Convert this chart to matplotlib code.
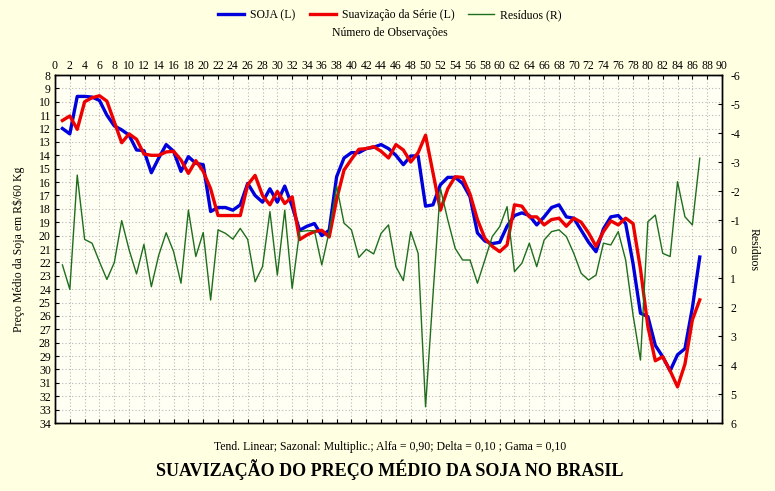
import matplotlib
matplotlib.use("Agg")
import matplotlib.pyplot as plt
from matplotlib.ticker import MultipleLocator

obs = list(range(1, 88))

soja = [12.0, 12.4, 9.6, 9.6, 9.65, 9.9, 11.0, 11.8, 12.1, 12.5,
        13.6, 13.65, 15.3, 14.2, 13.2, 13.7, 15.2, 14.1, 14.6, 14.7,
        18.2, 17.9, 17.9, 18.1, 17.7, 16.1, 17.0, 17.5, 16.5, 17.5,
        16.3, 17.8, 19.6, 19.3, 19.1, 20.0, 19.6, 15.6, 14.2, 13.8,
        13.8, 13.5, 13.4, 13.2, 13.5, 14.0, 14.7, 14.05, 14.05, 17.8,
        17.7, 16.2, 15.65, 15.65, 16.1, 17.1, 19.8, 20.4, 20.6, 20.5,
        19.3, 18.5, 18.3, 18.5, 19.2, 18.6, 17.9, 17.7, 18.6, 18.7,
        19.6, 20.5, 21.2, 19.5, 18.6, 18.5, 19.1, 22.1, 25.8, 26.05,
        28.2, 29.05, 30.1, 28.9, 28.45, 25.4, 21.6]

suavizacao = [11.4, 11.06, 12.06, 10.0, 9.7, 9.55, 9.95, 11.5, 13.06, 12.4,
              12.8, 13.9, 14.0, 14.0, 13.75, 13.7, 14.35, 15.35, 14.4, 15.2,
              16.5, 18.5, 18.5, 18.5, 18.5, 16.2, 15.5, 17.0, 17.7, 16.7,
              17.6, 17.1, 20.3, 19.95, 19.7, 19.6, 20.1, 17.3, 15.1, 14.3,
              13.55, 13.5, 13.35, 13.7, 14.2, 13.2, 13.6, 14.5, 13.8, 12.5,
              15.3, 18.1, 16.5, 15.6, 15.65, 16.9, 18.8, 20.2, 20.8, 21.2,
              20.7, 17.7, 17.8, 18.6, 18.6, 19.2, 18.8, 18.7, 19.3, 18.7,
              19.0, 19.8, 20.8, 19.7, 18.9, 19.2, 18.7, 19.1, 22.5, 26.8,
              29.35, 29.05, 30.1, 31.3, 29.6, 26.3, 24.8]

residuos = [0.55, 1.39, -2.55, -0.33, -0.2, 0.44, 1.05, 0.47, -0.98, 0.03,
            0.86, -0.16, 1.3, 0.21, -0.56, 0.09, 1.18, -1.34, 0.26, -0.57,
            1.76, -0.66, -0.54, -0.34, -0.71, -0.33, 1.13, 0.61, -1.29, 0.9,
            -1.34, 1.36, -0.6, -0.63, -0.63, 0.55, -0.6, -2.17, -0.89, -0.66,
            0.29, 0.01, 0.17, -0.54, -0.83, 0.61, 1.09, -0.6, 0.15, 5.44,
            1.6, -2.09, -1.0, -0.02, 0.38, 0.38, 1.18, 0.38, -0.43, -0.77,
            -1.46, 0.78, 0.49, -0.2, 0.61, -0.31, -0.6, -0.66, -0.43, 0.15,
            0.84, 1.07, 0.9, -0.2, -0.14, -0.6, 0.38, 2.28, 3.83, -0.94,
            -1.17, 0.15, 0.26, -2.32, -1.11, -0.83, -3.13]

W, H = 775, 491
fig = plt.figure(figsize=(W / 100, H / 100), dpi=100)
fig.patch.set_facecolor("#ffffe1")
serif = ["Liberation Serif", "DejaVu Serif"]
plt.rcParams["font.family"] = serif
plt.rcParams["axes.unicode_minus"] = False

ax = fig.add_axes([55 / W, 1 - 423 / H, 667 / W, 348 / H])
ax.set_facecolor("#fffff4")
ax2 = ax.twinx()

l1, = ax.plot(obs, soja, color="#0000dd", lw=2.4, label="SOJA (L)", zorder=3)
l2, = ax.plot(obs, suavizacao, color="#ee0000", lw=2.4, label="Suavização da Série (L)", zorder=4)
l3, = ax2.plot(obs, residuos, color="#1e6e1e", lw=1.0, label="Resíduos (R)")

ax.set_xlim(0, 90)
ax.set_ylim(34, 8)
ax2.set_ylim(6, -6)

ax.xaxis.set_major_locator(MultipleLocator(2))
ax.yaxis.set_major_locator(MultipleLocator(1))
ax2.yaxis.set_major_locator(MultipleLocator(1))
ax.tick_params(axis="x", top=True, bottom=True, labeltop=True, labelbottom=False,
               direction="in", length=3, labelsize=8.5, pad=2)
ax.tick_params(axis="y", direction="in", length=3, labelsize=8.5, pad=3)
ax2.tick_params(axis="y", direction="in", length=3, labelsize=8.5, pad=6)

ax.grid(True, color="#b8b8b8", linestyle=(0, (1, 2)), linewidth=0.8)
for a in (ax, ax2):
    for s in a.spines.values():
        s.set_color("black")
        s.set_linewidth(1.0)

ax.set_ylabel("Preço Médio da Soja em R$/60 Kg", fontsize=8.5, labelpad=10)
ax2.set_ylabel("Resíduos", fontsize=8.5, rotation=270, labelpad=14)

fig.text(390 / W, 1 - 33 / H, "Número de Observações", ha="center", va="center", fontsize=8.5)
fig.legend(handles=[l1, l2, l3], loc="center", bbox_to_anchor=(390 / W, 1 - 15 / H),
           ncol=3, frameon=False, fontsize=8.5, handlelength=2.2, columnspacing=1.2,
           handletextpad=0.5)

fig.text(390 / W, 1 - 447 / H,
         "Tend. Linear; Sazonal: Multiplic.; Alfa = 0,90; Delta = 0,10 ; Gama = 0,10",
         ha="center", va="center", fontsize=8.5)
fig.text(390 / W, 1 - 470 / H, "SUAVIZAÇÃO DO PREÇO MÉDIO DA SOJA NO BRASIL",
         ha="center", va="center", fontsize=13, fontweight="bold")

fig.savefig("out.png", dpi=100, facecolor=fig.get_facecolor())
